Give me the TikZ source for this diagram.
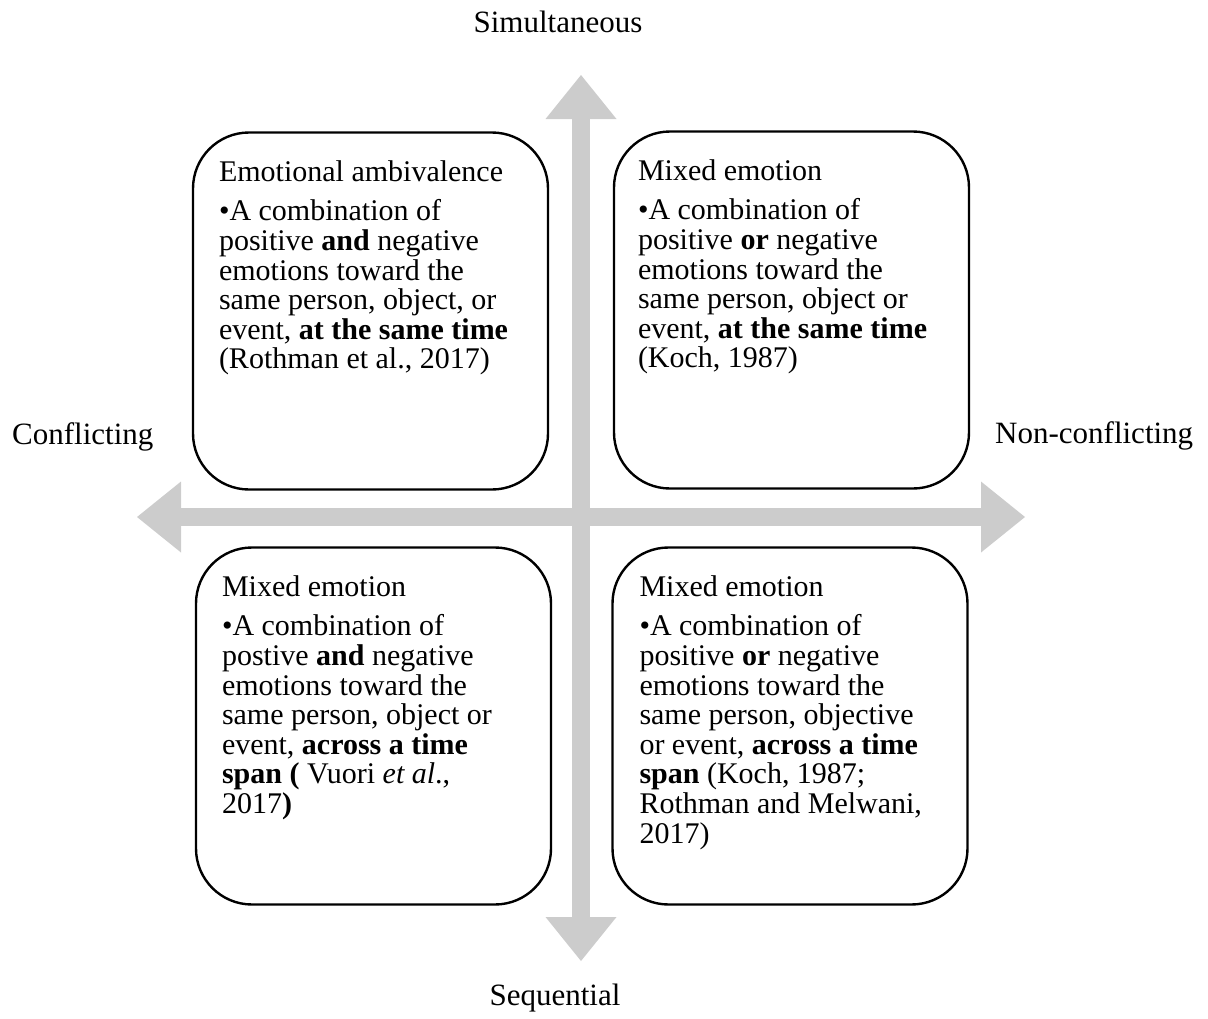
\documentclass[tikz,border=0pt]{standalone}
\usepackage{fontspec}
\setmainfont{Liberation Serif}
\usetikzlibrary{positioning,arrows.meta}
\definecolor{axisgray}{RGB}{204,204,204}
\tikzset{
  quad/.style={draw, line width=2.4pt, rounded corners=56pt, minimum width=355pt, minimum height=357pt, inner sep=0pt},
  quadtxt/.style={align=left, inner sep=0pt, font=\fontsize{30}{29.6}\selectfont},
  axislabel/.style={inner sep=0pt, font=\fontsize{31}{34}\selectfont},
  axis/.style={draw=axisgray, line width=18pt, {Triangle[length=44pt,width=71pt,line width=0pt]}-{Triangle[length=44pt,width=71pt,line width=0pt]}}
}
\begin{document}
\begin{tikzpicture}[x=1pt,y=-1pt]
\useasboundingbox (0,0) rectangle (1208,1018);
% axes
\coordinate (top) at (581,75);
\coordinate (bottom) at (581,961);
\coordinate (left) at (137,517);
\coordinate (right) at (1025,517);
\draw[axis] (bottom) -- (top);
\draw[axis] (left) -- (right);
\node[axislabel, anchor=base] (simul) at (558,32) {Simultaneous};
\node[axislabel, anchor=base] (seq) at (555,1005) {Sequential};
\node[axislabel, anchor=base west] (confl) at (12,444) {Conflicting};
\node[axislabel, anchor=base west] (nonconfl) at (995,443) {Non-conflicting};
% quadrants
\node[quad] (ambiv) at (370.5,311) {};
\node[quad] (mixsim) at (791.5,310) {};
\node[quad] (mixcon) at (373.5,726) {};
\node[quad] (mixseq) at (790,726) {};
\node[quadtxt, below right=29.5pt and 27pt of ambiv.north west] (ambivtxt) {Emotional ambivalence\\[9.4pt]
  \textbullet A combination of\\
  positive \textbf{and} negative\\
  emotions toward the\\
  same person, object, or\\
  event, \textbf{at the same time}\\
  (Rothman et al., 2017)};
\node[quadtxt, below right=29.5pt and 25pt of mixsim.north west] (mixsimtxt) {Mixed emotion\\[9.4pt]
  \textbullet A combination of\\
  positive \textbf{or} negative\\
  emotions toward the\\
  same person, object or\\
  event, \textbf{at the same time}\\
  (Koch, 1987)};
\node[quadtxt, below right=29.5pt and 27pt of mixcon.north west] (mixcontxt) {Mixed emotion\\[9.4pt]
  \textbullet A combination of\\
  postive \textbf{and} negative\\
  emotions toward the\\
  same person, object or\\
  event, \textbf{across a time}\\
  \textbf{span (} Vuori \textit{et al}.,\\
  2017\textbf{)}};
\node[quadtxt, below right=29.5pt and 28pt of mixseq.north west] (mixseqtxt) {Mixed emotion\\[9.4pt]
  \textbullet A combination of\\
  positive \textbf{or} negative\\
  emotions toward the\\
  same person, objective\\
  or event, \textbf{across a time}\\
  \textbf{span} (Koch, 1987;\\
  Rothman and Melwani,\\
  2017)};
\end{tikzpicture}
\end{document}
